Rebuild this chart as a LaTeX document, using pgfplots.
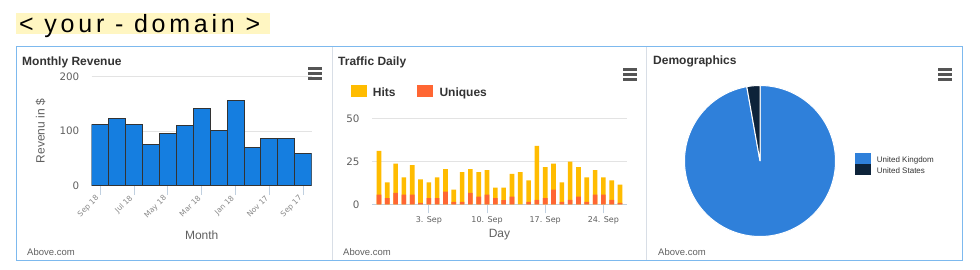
\documentclass[border=0pt]{standalone}
\usepackage{fontspec}
\setmainfont{Liberation Sans}
\newfontfamily\djv{DejaVu Sans}
\newfontfamily\bigfont[LetterSpace=15]{Liberation Sans}
\usepackage{pgfplots}
\pgfplotsset{compat=1.18}

\definecolor{frameblue}{HTML}{7DB9EE}
\definecolor{sepgray}{HTML}{D8DEE6}
\definecolor{revblue}{HTML}{157EE0}
\definecolor{barborder}{HTML}{333333}
\definecolor{hits}{HTML}{FFBC00}
\definecolor{uniq}{HTML}{FF6633}
\definecolor{ukblue}{HTML}{2F80DA}
\definecolor{usnavy}{HTML}{0D233A}
\definecolor{gridgray}{HTML}{E3E3E3}
\definecolor{axisline}{HTML}{C0D0E0}
\definecolor{ticktext}{HTML}{606060}
\definecolor{titletext}{HTML}{333333}
\definecolor{hlyellow}{HTML}{FFF6C2}
\definecolor{menugray}{HTML}{555555}

\pgfplotsset{
  panel/.style={
    scale only axis,
    axis x line*=bottom, axis y line*=left,
    y axis line style={draw=none},
    x axis line style={draw=axisline, line width=0.9pt, -},
    ymajorgrids, grid style={draw=gridgray, line width=0.9pt},
    tick align=outside,
    xtick style={draw=axisline, line width=0.8pt},
    ytick style={draw=none},
    major tick length=9pt,
    /pgf/number format/assume math mode=true,
    yticklabel style={font=\djv\fontsize{10.3}{12}\selectfont, text=ticktext},
    label style={font=\fontsize{12}{14}\selectfont, text=ticktext},
  }
}

\begin{document}
\begin{tikzpicture}
\useasboundingbox (0pt,0pt) rectangle (980pt,269pt);
\fill[white] (0pt,0pt) rectangle (980pt,269pt);

% page title
\fill[hlyellow] (16pt,235pt) rectangle (270pt,256pt);
\node[anchor=base west, inner sep=0pt] at (19pt,236.5pt)
  {\bigfont\fontsize{25}{28}\selectfont <\ your\ -\ domain\ >};

% frames
\draw[frameblue, line width=1pt] (16pt,8.3pt) rectangle (962pt,222.3pt);
\draw[sepgray, line width=1pt] (332.7pt,8.8pt) -- (332.7pt,221.8pt);
\draw[sepgray, line width=1pt] (646.5pt,8.8pt) -- (646.5pt,221.8pt);

% panel titles
\node[anchor=base west, inner sep=0pt, text=titletext] at (22pt,204pt)
  {\bfseries\fontsize{12}{14}\selectfont Monthly Revenue};
\node[anchor=base west, inner sep=0pt, text=titletext] at (338pt,204pt)
  {\bfseries\fontsize{12}{14}\selectfont Traffic Daily};
\node[anchor=base west, inner sep=0pt, text=titletext] at (653pt,204.5pt)
  {\bfseries\fontsize{12}{14}\selectfont Demographics};

% credits
\foreach \xx in {27pt,343pt,658pt}
  \node[anchor=base west, inner sep=0pt, text=ticktext] at (\xx,13.8pt)
    {\fontsize{9.5}{11}\selectfont Above.com};

% menu icons
\foreach \xa/\yo in {308.3/200.7,623.3/199.7,938.3/199.7}{
  \foreach \k in {0,5,10}
    \draw[menugray, line width=2.4pt] (\xa pt,\yo pt-\k pt) -- (\xa pt+14pt,\yo pt-\k pt);
}

% ---------- Monthly Revenue ----------
\begin{axis}[panel,
  at={(91.7pt,83.3pt)}, anchor=south west,
  width=220pt, height=109pt,
  xmin=-0.5, xmax=12.5, ymin=0, ymax=200,
  ytick={0,100,200},
  xtick={0,2,4,6,8,10,12},
  xticklabels={Sep 18,Jul 18,May 18,Mar 18,Jan 18,Nov 17,Sep 17},
  xticklabel style={rotate=45, anchor=east, font=\djv\fontsize{7.5}{8}\selectfont, text=ticktext!75},
  xlabel={Month}, ylabel={Revenu in \$},
  xlabel style={at={(axis description cs:0.5,-0.452)}, anchor=center},
  ylabel style={at={(axis description cs:-0.232,0.5)}, anchor=center, rotate=0},
]
\addplot[ybar, bar width=16.92pt, bar shift=0pt, fill=revblue, draw=barborder, line width=0.9pt]
  coordinates {(0,112) (1,123) (2,112) (3,75) (4,95) (5,110) (6,142) (7,101) (8,157) (9,71) (10,86) (11,86) (12,60)};
\end{axis}

% ---------- Traffic Daily ----------
\fill[hits] (350.7pt,172.3pt) rectangle (366.7pt,184pt);
\node[anchor=base west, inner sep=0pt, text=titletext] at (372.7pt,173pt)
  {\bfseries\fontsize{12}{14}\selectfont Hits};
\fill[uniq] (417pt,172.3pt) rectangle (433pt,184pt);
\node[anchor=base west, inner sep=0pt, text=titletext] at (439.3pt,173pt)
  {\bfseries\fontsize{12}{14}\selectfont Uniques};

\begin{axis}[panel,
  at={(372pt,64.7pt)}, anchor=south west,
  width=255pt, height=86pt,
  xmin=-0.84, xmax=29.84, ymin=0, ymax=50,
  ytick={0,25,50},
  xtick={6,13,20,27},
  xticklabels={3. Sep,10. Sep,17. Sep,24. Sep},
  xticklabel style={font=\djv\fontsize{8}{9}\selectfont, text=ticktext},
  xlabel={Day},
  xlabel style={at={(axis description cs:0.5,-0.358)}, anchor=center},
]
\addplot[ybar, bar width=4.6pt, bar shift=0pt, fill=hits, draw=none]
  coordinates {(0,31) (1,12.7) (2,23.6) (3,15.7) (4,22.8) (5,14.5) (6,12.7) (7,15.7) (8,20.4) (9,8.5)
   (10,18.7) (11,20.4) (12,18.7) (13,19.8) (14,9.7) (15,9.7) (16,17.7) (17,18.7) (18,13.9) (19,33.9)
   (20,21.6) (21,23.6) (22,12.7) (23,24.8) (24,21.6) (25,15.7) (26,19.8) (27,15.7) (28,13.9) (29,11.5)};
\addplot[ybar, bar width=4.6pt, bar shift=0pt, fill=uniq, draw=none]
  coordinates {(0,5.6) (1,3.6) (2,6.7) (3,5.6) (4,5.6) (5,0.8) (6,3.6) (7,3.6) (8,7.3) (9,1.4)
   (10,1.4) (11,6.7) (12,4.4) (13,5.6) (14,3.6) (15,2.4) (16,4.4) (17,0) (18,1.4) (19,2.6)
   (20,3.6) (21,8.5) (22,1.4) (23,2.6) (24,4.4) (25,1.4) (26,5.6) (27,5.6) (28,2.6) (29,0.8)};
\end{axis}

% ---------- Demographics ----------
\begin{axis}[
  at={(760pt,108pt)}, anchor=center, scale only axis,
  width=151pt, height=151pt,
  xmin=-1, xmax=1, ymin=-1, ymax=1,
  hide axis, clip=false,
]
% United Kingdom 97.2 %, United States 2.8 %, clockwise from the top
\addplot[fill=ukblue, draw=white, line width=1pt, domain=0:{3.6*97.2}, samples=150, variable=\t]
  ({sin(\t)},{cos(\t)}) -- (axis cs:0,0) -- cycle;
\addplot[fill=usnavy, draw=white, line width=1pt, domain={3.6*97.2}:360, samples=12, variable=\t]
  ({sin(\t)},{cos(\t)}) -- (axis cs:0,0) -- cycle;
\end{axis}
\fill[ukblue] (855pt,105.2pt) rectangle (871pt,116.3pt);
\fill[usnavy] (855pt,94pt) rectangle (871pt,105.2pt);
\node[anchor=west, inner sep=0pt, text=titletext] at (876.7pt,108.3pt)
  {\fontsize{8}{9}\selectfont United Kingdom};
\node[anchor=west, inner sep=0pt, text=titletext] at (876.7pt,98pt)
  {\fontsize{8}{9}\selectfont United States};
\end{tikzpicture}
\end{document}
